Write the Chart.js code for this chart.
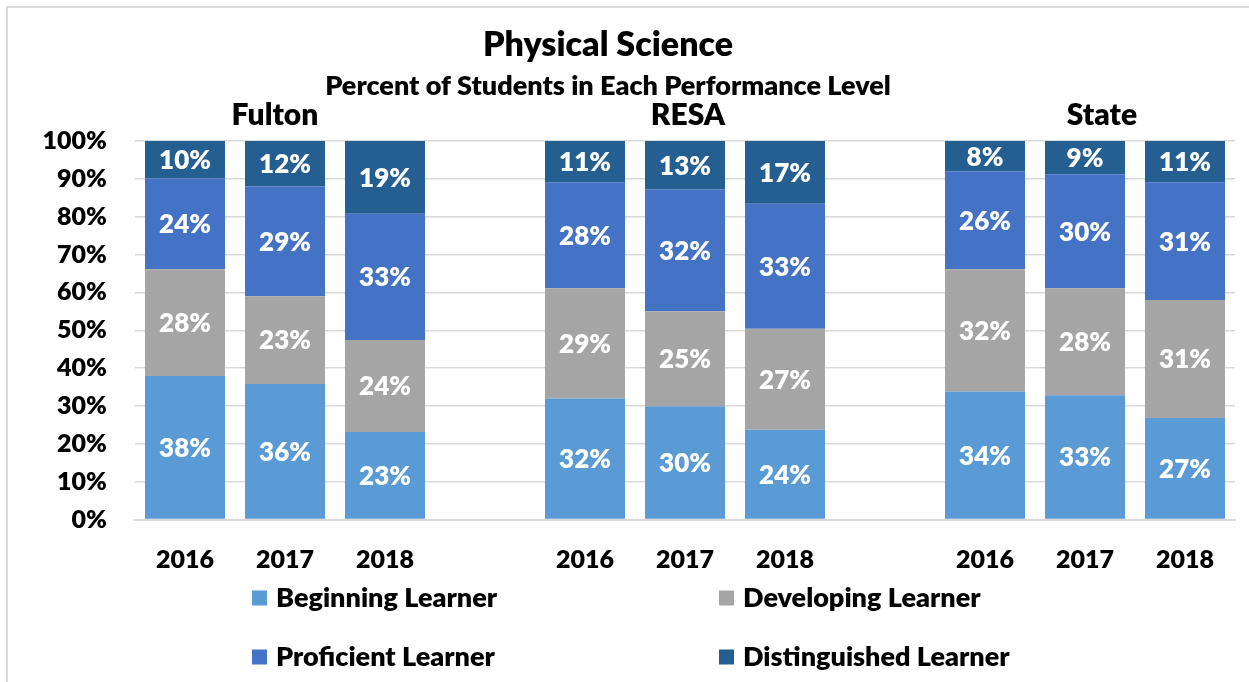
<!DOCTYPE html>
<html><head><meta charset="utf-8">
<script src="https://cdn.jsdelivr.net/npm/chart.js@4.4.1/dist/chart.umd.min.js"></script>
<style>
html,body{margin:0;padding:0;background:#fff;overflow:hidden;width:1249px;height:682px}
#frame{position:absolute;left:6px;top:6px;width:1270px;height:700px;border:2px solid #d9d9d9;box-sizing:border-box}
#wrap{position:absolute;left:0;top:0;width:1249px;height:682px}
</style></head><body>
<div id="frame"></div>
<div id="wrap"><canvas id="c" width="1249" height="682"></canvas></div>
<script>
const categories = ['2016','2017','2018','','2016','2017','2018','','2016','2017','2018'];
const groupLabels = ['Fulton','RESA','State'];
const seriesNames = ['Beginning Learner','Developing Learner','Proficient Learner','Distinguished Learner'];
const beginning     = [37.9, 35.8, 23.1, null, 32.0, 29.9, 23.7, null, 33.8, 32.8, 26.8];
const developing    = [28.2, 23.2, 24.3, null, 29.1, 25.1, 26.7, null, 32.3, 28.3, 31.2];
const proficient    = [24.0, 29.0, 33.4, null, 28.0, 32.2, 33.0, null, 25.9, 30.1, 31.1];
const distinguished = [ 9.9, 12.0, 19.2, null, 10.9, 12.8, 16.6, null,  8.0,  8.8, 10.9];
const yMin = 0, yMax = 100, yStep = 10;
const title = 'Physical Science';
const subtitle = 'Percent of Students in Each Performance Level';

const colors = ['#5B9BD5','#A5A5A5','#4472C4','#255E91'];
const FONT = 'Lato, "Open Sans", sans-serif';
const W = '800';

const barLabels = {
  id:'barLabels',
  afterDatasetsDraw(chart){
    const ctx = chart.ctx;
    ctx.save();
    ctx.font = W + ' 26px ' + FONT;
    ctx.fillStyle = '#fff';
    ctx.textAlign = 'center';
    ctx.textBaseline = 'middle';
    chart.data.datasets.forEach((ds,i)=>{
      const meta = chart.getDatasetMeta(i);
      meta.data.forEach((el,j)=>{
        const v = ds.data[j];
        if (v == null) return;
        ctx.fillText(Math.round(v)+'%', el.x, (el.y+el.base)/2 + 1);
      });
    });
    ctx.restore();
  }
};

const decorations = {
  id:'decorations',
  afterDraw(chart){
    const ctx = chart.ctx;
    const xs = chart.scales.x;
    ctx.save();
    ctx.fillStyle = '#000';
    ctx.textAlign = 'center';
    ctx.textBaseline = 'middle';
    ctx.font = W + ' 34px ' + FONT;
    ctx.fillText(title, 608, 45);
    ctx.font = W + ' 27px ' + FONT;
    ctx.fillText(subtitle, 608, 86);
    ctx.font = W + ' 30px ' + FONT;
    const offs = [-10, 3, 17];
    groupLabels.forEach((g,k)=>{
      ctx.fillText(g, xs.getPixelForValue(1+4*k) + offs[k], 115);
    });
    // legend 2x2
    ctx.font = W + ' 27px ' + FONT;
    ctx.textAlign = 'left';
    const colX = [252, 719], rowY = [598, 657];
    chart.data.datasets.forEach((ds,i)=>{
      const x = colX[i%2], y = rowY[Math.floor(i/2)];
      ctx.fillStyle = ds.backgroundColor;
      ctx.fillRect(x, y-7.5, 15, 15);
      ctx.fillStyle = '#000';
      ctx.fillText(ds.label, x+24, y);
    });
    ctx.restore();
  }
};

const series = [beginning, developing, proficient, distinguished];
new Chart(document.getElementById('c'), {
  type:'bar',
  data:{
    labels: categories,
    datasets: series.map((d,i)=>({
      label: seriesNames[i], data: d, backgroundColor: colors[i],
      borderWidth:0, barPercentage:0.8, categoryPercentage:1.0
    }))
  },
  options:{
    responsive:false, animation:false, devicePixelRatio:1,
    layout:{padding:{left:0,right:14,top:141,bottom:0}},
    plugins:{legend:{display:false}, title:{display:false}, tooltip:{enabled:false}},
    scales:{
      x:{
        stacked:true,
        grid:{display:false},
        border:{display:true,color:'#d9d9d9',width:2},
        ticks:{color:'#000',font:{family:FONT,weight:W,size:25},padding:17,maxRotation:0,autoSkip:false},
        afterFit(s){ s.height = 162.5; }
      },
      y:{
        stacked:true, min:yMin, max:yMax,
        grid:{color:'#d9d9d9',lineWidth:1.5,drawTicks:false},
        border:{display:false},
        ticks:{stepSize:yStep,color:'#000',font:{family:FONT,weight:W,size:25},padding:28,
          callback:v=>v+'%'},
        afterFit(s){ s.width = 135; }
      }
    }
  },
  plugins:[barLabels, decorations]
});
</script>
</body></html>
